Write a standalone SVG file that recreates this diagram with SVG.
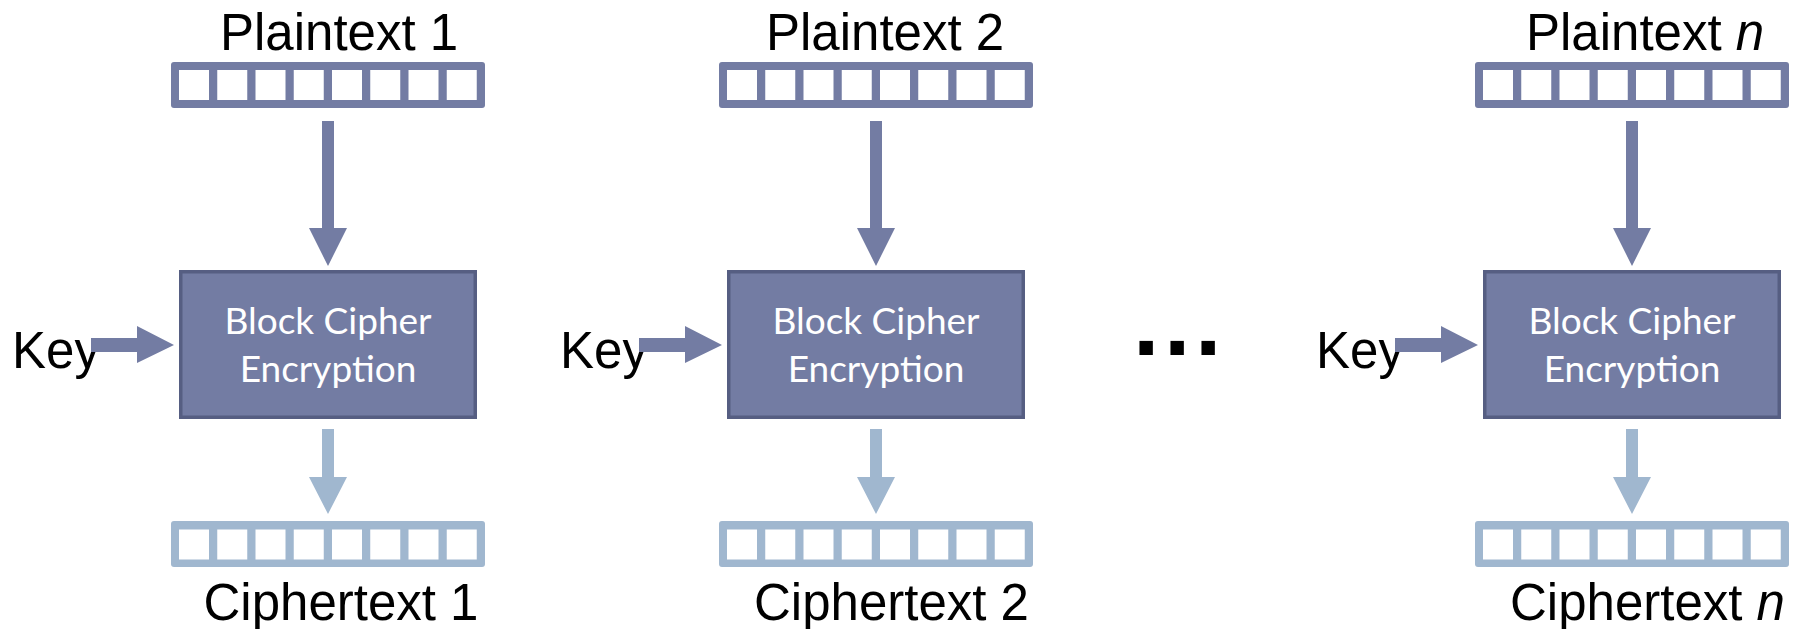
<svg xmlns="http://www.w3.org/2000/svg" xmlns:xlink="http://www.w3.org/1999/xlink" width="1796" height="629" viewBox="0 0 1796 629">
<style>
.lbl{font-family:"Liberation Sans",Arial,sans-serif;font-size:51px;fill:#000}
.box{fill:#737ca3;stroke:#565e82;stroke-width:3.5}
.boxt{font-family:Lato,"Open Sans",sans-serif;font-size:37px;fill:#fff;text-anchor:middle}
.pbar{fill:#737ca3}
.cbar{fill:#a0b7cf}
.parrow{fill:#737ca3}
.carrow{fill:#a0b7cf}
.cell{fill:#fff}
.dots{font-family:"Liberation Sans",Arial,sans-serif;font-weight:bold;font-size:95px;letter-spacing:4.6px;fill:#000}
</style>
<defs>
<g id="cells">
<rect class="cell" x="179" y="0" width="30" height="30"/>
<rect class="cell" x="217.25" y="0" width="30" height="30"/>
<rect class="cell" x="255.5" y="0" width="30" height="30"/>
<rect class="cell" x="293.75" y="0" width="30" height="30"/>
<rect class="cell" x="332" y="0" width="30" height="30"/>
<rect class="cell" x="370.25" y="0" width="30" height="30"/>
<rect class="cell" x="408.5" y="0" width="30" height="30"/>
<rect class="cell" x="446.75" y="0" width="30" height="30"/>
</g>
<polygon id="downP" class="parrow" points="322,121 334,121 334,228 347,228 328,266 309,228 322,228"/>
<polygon id="downC" class="carrow" points="322,429 334,429 334,477 347,477 328,514 309,477 322,477"/>
<polygon id="keyA" class="parrow" points="91,338 137,338 137,326 174,345 137,363 137,352 91,352"/>
</defs>

<!-- Column 1 -->
<g id="plaintext1">
<text class="lbl" x="220" y="50">Plaintext 1</text>
<rect class="pbar" x="171" y="62" width="314" height="46" rx="3"/>
<use xlink:href="#cells" href="#cells" y="70"/>
</g>
<g id="key1"><text class="lbl" x="12" y="368">Key</text></g>
<g id="cipher1">
<rect class="box" x="180.75" y="271.75" width="294.5" height="145.5"/>
<text class="boxt" x="328" y="334">Block Cipher</text>
<text class="boxt" x="328" y="382">Encryption</text>
</g>
<g id="ciphertext1">
<rect class="cbar" x="171" y="521" width="314" height="46" rx="3"/>
<use xlink:href="#cells" href="#cells" y="529.5"/>
<text class="lbl" x="203.5" y="620">Ciphertext 1</text>
</g>

<!-- Column 2 -->
<g id="plaintext2">
<text class="lbl" x="766" y="50">Plaintext 2</text>
<rect class="pbar" x="719" y="62" width="314" height="46" rx="3"/>
<use xlink:href="#cells" href="#cells" x="548" y="70"/>
</g>
<g id="key2"><text class="lbl" x="560" y="368">Key</text></g>
<g id="cipher2">
<rect class="box" x="728.75" y="271.75" width="294.5" height="145.5"/>
<text class="boxt" x="876" y="334">Block Cipher</text>
<text class="boxt" x="876" y="382">Encryption</text>
</g>
<g id="ciphertext2">
<rect class="cbar" x="719" y="521" width="314" height="46" rx="3"/>
<use xlink:href="#cells" href="#cells" x="548" y="529.5"/>
<text class="lbl" x="754" y="620">Ciphertext 2</text>
</g>

<!-- Ellipsis -->
<g id="ellipsis"><text class="dots" x="1133" y="355">...</text></g>

<!-- Column n -->
<g id="plaintextn">
<text class="lbl" x="1526" y="50">Plaintext <tspan font-style="italic">n</tspan></text>
<rect class="pbar" x="1475" y="62" width="314" height="46" rx="3"/>
<use xlink:href="#cells" href="#cells" x="1304" y="70"/>
</g>
<g id="keyn"><text class="lbl" x="1316" y="368">Key</text></g>
<g id="ciphern">
<rect class="box" x="1484.75" y="271.75" width="294.5" height="145.5"/>
<text class="boxt" x="1632" y="334">Block Cipher</text>
<text class="boxt" x="1632" y="382">Encryption</text>
</g>
<g id="ciphertextn">
<rect class="cbar" x="1475" y="521" width="314" height="46" rx="3"/>
<use xlink:href="#cells" href="#cells" x="1304" y="529.5"/>
<text class="lbl" x="1510" y="620">Ciphertext <tspan font-style="italic">n</tspan></text>
</g>

<!-- Connectors -->
<g id="connectors">
<use xlink:href="#downP" href="#downP"/>
<use xlink:href="#keyA" href="#keyA"/>
<use xlink:href="#downC" href="#downC"/>
<use xlink:href="#downP" href="#downP" x="548"/>
<use xlink:href="#keyA" href="#keyA" x="548"/>
<use xlink:href="#downC" href="#downC" x="548"/>
<use xlink:href="#downP" href="#downP" x="1304"/>
<use xlink:href="#keyA" href="#keyA" x="1304"/>
<use xlink:href="#downC" href="#downC" x="1304"/>
</g>
</svg>
